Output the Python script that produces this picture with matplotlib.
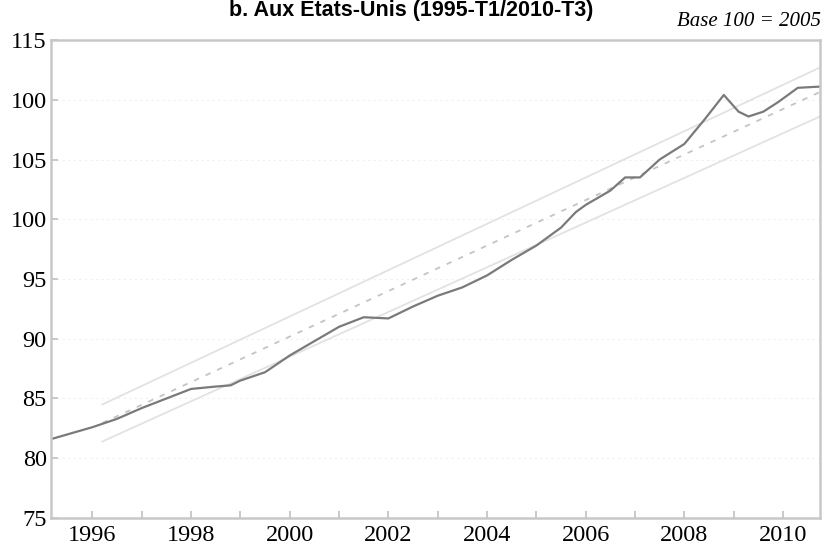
import matplotlib.pyplot as plt
import matplotlib as mpl

mpl.rcParams["font.family"] = ["Liberation Serif", "DejaVu Serif"]

annees = [1995.16, 1996.0, 1996.5, 1997.0, 1997.5, 1998.0, 1998.5, 1998.8, 1999.0, 1999.5,
          2000.0, 2000.5, 2001.0, 2001.5, 2002.0, 2002.5, 2003.0, 2003.5, 2004.0, 2004.5,
          2005.0, 2005.5, 2005.8, 2006.0, 2006.5, 2006.8, 2007.1, 2007.5, 2008.0, 2008.4,
          2008.8, 2009.1, 2009.3, 2009.6, 2009.9, 2010.3, 2010.75]
valeurs = [81.6, 82.6, 83.3, 84.2, 85.0, 85.8, 86.0, 86.1, 86.5, 87.2,
           88.6, 89.8, 91.0, 91.8, 91.7, 92.7, 93.6, 94.3, 95.3, 96.6,
           97.8, 99.3, 100.6, 101.2, 102.4, 103.5, 103.5, 105.0, 106.3, 108.3,
           110.4, 109.0, 108.6, 109.0, 109.8, 111.0, 111.1]

# tendance et bornes
x_bande = [1996.2, 2010.75]
haut = [84.5, 112.7]
bas = [81.4, 108.6]
tendance = [82.95, 110.65]

yticks = [75, 80, 85, 90, 95, 100, 105, 110, 115]
ylabels = ['75', '80', '85', '90', '95', '100', '105', '100', '115']
xticks = list(range(1996, 2011))
xlabels = [str(a) if a % 2 == 0 else '' for a in xticks]

fig = plt.figure(figsize=(8.27, 5.56), dpi=100)
ax = fig.add_axes([51 / 827, 38 / 556, 769 / 827, 478 / 556])

for y in yticks[1:-1]:
    ax.axhline(y, color='#f0f0f0', lw=0.8, ls=(0, (2, 3)), zorder=0)

ax.plot(x_bande, haut, color='#e2e2e2', lw=1.3)
ax.plot(x_bande, bas, color='#e2e2e2', lw=1.3)
ax.plot(x_bande, tendance, color='#c4c4c4', lw=1.3, ls=(0, (3, 4)))
ax.plot(annees, valeurs, color='#7a7a7a', lw=1.6)

ax.set_xlim(1995.16, 2010.75)
ax.set_ylim(75, 115)
ax.set_yticks(yticks)
ax.set_yticklabels(ylabels)
ax.set_xticks(xticks)
ax.set_xticklabels(xlabels)
ax.tick_params(direction='in', length=5, width=1.2, color='#c0c0c0', labelsize=17.5, pad=5)
ax.tick_params(axis='y', pad=3)
for s in ax.spines.values():
    s.set_color('#c8c8c8')
    s.set_linewidth(1.8)

fig.text(0.497, 1.0, 'b. Aux Etats-Unis (1995-T1/2010-T3)', family=['Liberation Sans', 'DejaVu Sans'],
         fontweight='bold', fontsize=15.5, ha='center', va='top')
fig.text(0.993, 0.962, 'Base 100 = 2005', style='italic', fontsize=15, ha='right', va='center')

plt.savefig('out.png', dpi=100)
